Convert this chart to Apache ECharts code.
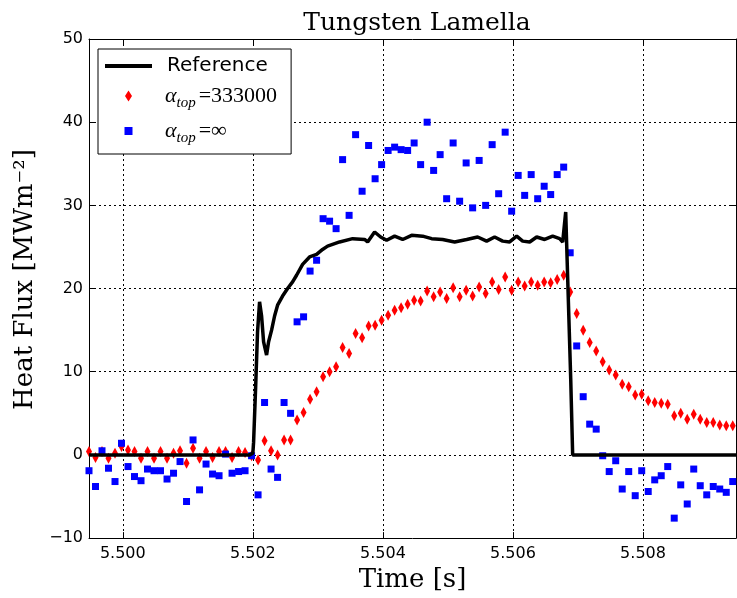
<!DOCTYPE html>
<html>
<head>
<meta charset="utf-8">
<title>Tungsten Lamella</title>
<script src="https://cdn.jsdelivr.net/npm/echarts@6/dist/echarts.min.js"></script>
<style>
    html, body { margin: 0; padding: 0; background: #fff; }
    #lamella { width: 737px; height: 598px; }
</style>
</head>
<body>
<div id="lamella"></div>
<script>
// sample times of the two simulated series [s]
var sampleTime = [
    5.49948, 5.49958, 5.49968, 5.49978, 5.49988,
    5.49998, 5.50008, 5.50018, 5.50028, 5.50038,
    5.50048, 5.50058, 5.50068, 5.50078, 5.50088,
    5.50098, 5.50108, 5.50118, 5.50128, 5.50138,
    5.50148, 5.50158, 5.50168, 5.50178, 5.50188,
    5.50198, 5.50208, 5.50218, 5.50228, 5.50238,
    5.50248, 5.50258, 5.50268, 5.50278, 5.50288,
    5.50298, 5.50308, 5.50318, 5.50328, 5.50338,
    5.50348, 5.50358, 5.50368, 5.50378, 5.50388,
    5.50398, 5.50408, 5.50418, 5.50428, 5.50438,
    5.50448, 5.50458, 5.50468, 5.50478, 5.50488,
    5.50498, 5.50508, 5.50518, 5.50528, 5.50538,
    5.50548, 5.50558, 5.50568, 5.50578, 5.50588,
    5.50598, 5.50608, 5.50618, 5.50628, 5.50638,
    5.50648, 5.50658, 5.50668, 5.50678, 5.50688,
    5.50698, 5.50708, 5.50718, 5.50728, 5.50738,
    5.50748, 5.50758, 5.50768, 5.50778, 5.50788,
    5.50798, 5.50808, 5.50818, 5.50828, 5.50838,
    5.50848, 5.50858, 5.50868, 5.50878, 5.50888,
    5.50898, 5.50908, 5.50918, 5.50928, 5.50938
];

// alpha_top = 333000 (red diamonds)
var alpha333Flux = [
    0.4, -0.3, 0.4, -0.4, 0.2,
    1.0, 0.6, 0.4, -0.4, 0.4,
    -0.4, 0.4, -0.4, 0.2, 0.5,
    -1.0, 0.8, -0.4, 0.4, -0.3,
    0.4, 0.4, -0.3, 0.4, 0.3,
    -0.1, -0.6, 1.7, 0.5, 0.0,
    1.8, 1.8, 4.2, 5.1, 6.7,
    7.6, 9.4, 10.0, 10.6, 12.9,
    12.2, 14.6, 14.1, 15.5, 15.6,
    16.2, 16.8, 17.4, 17.7, 18.1,
    18.6, 18.5, 19.7, 19.0, 19.6,
    18.8, 20.1, 19.0, 19.8, 19.1,
    20.2, 19.4, 20.8, 19.9, 21.4,
    19.8, 20.8, 20.3, 20.8, 20.4,
    20.8, 20.7, 21.1, 21.6, 19.6,
    17.0, 15.0, 13.5, 12.5, 11.2,
    10.2, 9.6, 8.5, 8.2, 7.2,
    7.3, 6.5, 6.3, 6.2, 6.1,
    4.7, 5.0, 4.3, 4.9, 4.3,
    3.9, 3.9, 3.6, 3.5, 3.5
];

// alpha_top = infinity (blue squares)
var alphaInfFlux = [
    -1.9, -3.8, 0.5, -1.6, -3.2,
    1.4, -1.4, -2.6, -3.1, -1.7,
    -1.9, -1.9, -2.9, -2.2, -0.8,
    -5.6, 1.8, -4.2, -1.1, -2.3,
    -2.5, 0.1, -2.2, -2.0, -1.9,
    -0.1, -4.8, 6.3, -1.7, -2.7,
    6.3, 5.0, 16.0, 16.6, 22.1,
    23.4, 28.4, 28.1, 27.2, 35.5,
    28.8, 38.5, 31.7, 37.2, 33.2,
    34.9, 36.6, 37.0, 36.7, 36.6,
    37.5, 34.9, 40.0, 34.2, 36.1,
    30.8, 37.5, 30.5, 35.1, 29.7,
    35.4, 30.0, 37.3, 31.4, 38.8,
    29.3, 33.6, 31.2, 33.7, 30.8,
    32.3, 31.3, 33.7, 34.6, 24.3,
    13.1, 7.0, 3.7, 3.1, -0.1,
    -2.0, -0.7, -4.1, -2.0, -4.9,
    -1.9, -4.4, -3.0, -2.5, -1.4,
    -7.6, -3.6, -5.9, -1.7, -3.7,
    -4.8, -3.8, -4.1, -4.5, -3.2
];

// reference curve (black line)
var refTime = [
    5.49948, 5.50195, 5.50200, 5.502011, 5.502042, 5.502072, 5.502103, 5.502134,
    5.502165, 5.502211, 5.502242, 5.502288, 5.502334, 5.502380, 5.502457, 5.502534,
    5.502611, 5.502672, 5.502765, 5.502872, 5.502980, 5.503072, 5.503149, 5.503334,
    5.503534, 5.503718, 5.503765, 5.503872, 5.503965, 5.504057, 5.504180, 5.504303,
    5.504442, 5.504611, 5.504749, 5.504918, 5.505103, 5.505288, 5.505457, 5.505595,
    5.505718, 5.505842, 5.505949, 5.506057, 5.506149, 5.506257, 5.506365, 5.506488,
    5.506611, 5.506718, 5.506765, 5.506788, 5.506811, 5.506826, 5.506842, 5.506888,
    5.506918, 5.50943
];
var refFlux = [
    0, 0, 0.2, 1.5, 8.0, 14.8, 18.4, 16.7,
    13.6, 12.0, 13.6, 15.0, 16.7, 18.0, 19.1, 20.0,
    20.8, 21.6, 22.9, 23.8, 24.1, 24.7, 25.1, 25.6,
    26.0, 25.9, 25.6, 26.8, 26.2, 25.8, 26.3, 25.9,
    26.4, 26.3, 26.0, 25.9, 25.6, 25.9, 26.2, 25.7,
    26.2, 25.7, 25.6, 26.3, 25.7, 25.6, 26.2, 25.9,
    26.3, 26.0, 25.6, 25.5, 29.2, 29.0, 21.1, 9.2,
    0, 0
];

var timeTicks = [5.500, 5.502, 5.504, 5.506, 5.508];
var seriesNames = ['Reference', 'α_top=333000', 'α_top=∞'];
var legendText = {
    'Reference': '{r|Reference}',
    'α_top=333000': '{a|α}{s|top}{e|=333000}',
    'α_top=∞': '{a|α}{s|top}{e|=∞}'
};
// legend glyphs; the lone "M x,y Z" points only stretch the icon box to 47x11
var legendIcons = [
    'path://M0,0Z M47,11Z M0,3.5H47V7.5H0Z',
    'path://M0,0Z M47,11Z M23.5,0 L27,5.5 L23.5,11 L20,5.5Z',
    'path://M0,0Z M47,11Z M19.5,1.5H27.5V9.5H19.5Z'
];

function pairs(xs, ys) {
    return xs.map(function (x, i) { return [x, ys[i]]; });
}

var gridLine = { show: true, lineStyle: { color: '#000', width: 1, type: [2, 3] } };
var frame = { show: true, onZero: false, lineStyle: { color: '#000', width: 1 } };
var tickFont = { fontFamily: 'DejaVu Sans', fontSize: 16, color: '#000' };
var nameFont = { fontFamily: 'DejaVu Serif', fontSize: 26, color: '#000' };

var chart = echarts.init(document.getElementById('lamella'));
chart.setOption({
    backgroundColor: '#fff',
    animation: false,
    title: {
        text: 'Tungsten Lamella',
        left: 412,
        top: 6,
        textAlign: 'center',
        textStyle: { fontFamily: 'DejaVu Serif', fontSize: 25, fontWeight: 'normal', color: '#000' }
    },
    legend: {
        data: seriesNames.map(function (n, i) { return { name: n, icon: legendIcons[i] }; }),
        orient: 'vertical',
        left: 98,
        top: 49,
        padding: [7, 14, 8, 7],
        itemGap: 9,
        itemWidth: 47,
        itemHeight: 11,
        symbolKeepAspect: true,
        borderColor: '#000',
        borderWidth: 1,
        backgroundColor: '#fff',
        formatter: function (name) { return legendText[name]; },
        textStyle: {
            color: '#000',
            rich: {
                r: { fontFamily: 'DejaVu Sans', fontSize: 20, padding: [0, 0, 0, 10], lineHeight: 24 },
                a: { fontFamily: 'Liberation Serif', fontStyle: 'italic', fontSize: 22, padding: [0, 0, 0, 8], lineHeight: 30 },
                s: { fontFamily: 'Liberation Serif', fontStyle: 'italic', fontSize: 15, verticalAlign: 'bottom', lineHeight: 15 },
                e: { fontFamily: 'Liberation Serif', fontSize: 22, padding: [0, 0, 0, 3] }
            }
        }
    },
    grid: { left: 89, right: 1, top: 39, bottom: 57 },
    xAxis: [
        {
            type: 'value', min: 5.49948, max: 5.50943, position: 'bottom',
            axisLine: frame,
            axisTick: { inside: true, length: 6, customValues: timeTicks, lineStyle: { color: '#000' } },
            axisLabel: Object.assign({ customValues: timeTicks, margin: 8, formatter: function (v) { return v.toFixed(3); } }, tickFont),
            splitLine: gridLine,
            name: 'Time [s]', nameLocation: 'middle', nameGap: 23, nameTextStyle: nameFont
        },
        {
            type: 'value', min: 5.49948, max: 5.50943, position: 'top',
            axisLine: frame,
            axisTick: { inside: true, length: 6, customValues: timeTicks, lineStyle: { color: '#000' } },
            axisLabel: { show: false },
            splitLine: { show: false }
        }
    ],
    yAxis: [
        {
            type: 'value', min: -10, max: 50, interval: 10, position: 'left',
            axisLine: frame,
            axisTick: { inside: true, length: 6, lineStyle: { color: '#000' } },
            axisLabel: Object.assign({ margin: 6, formatter: function (v) { return String(v).replace('-', '\u2212'); } }, tickFont),
            splitLine: gridLine,
            name: 'Heat Flux [MWm\u207B\u00B2]', nameLocation: 'middle', nameGap: 42,
            nameTextStyle: Object.assign({ padding: [0, 0, 0, 18] }, nameFont)
        },
        {
            type: 'value', min: -10, max: 50, interval: 10, position: 'right',
            axisLine: frame,
            axisTick: { inside: true, length: 6, lineStyle: { color: '#000' } },
            axisLabel: { show: false },
            splitLine: { show: false }
        }
    ],
    series: [
        {
            name: 'α_top=333000',
            type: 'scatter',
            data: pairs(sampleTime, alpha333Flux),
            symbol: 'path://M3,0 L6,5.5 L3,11 L0,5.5 Z',
            symbolSize: [6, 11],
            itemStyle: { color: '#ff0000', opacity: 1 },
            silent: true,
            z: 2
        },
        {
            name: 'α_top=∞',
            type: 'scatter',
            data: pairs(sampleTime, alphaInfFlux),
            symbol: 'rect',
            symbolSize: 7,
            itemStyle: { color: '#0000ff', opacity: 1 },
            silent: true,
            z: 3
        },
        {
            name: 'Reference',
            type: 'line',
            data: pairs(refTime, refFlux),
            symbol: 'none',
            lineStyle: { color: '#000', width: 3.5 },
            itemStyle: { color: '#000' },
            silent: true,
            z: 4
        }
    ]
});
</script>
</body>
</html>
